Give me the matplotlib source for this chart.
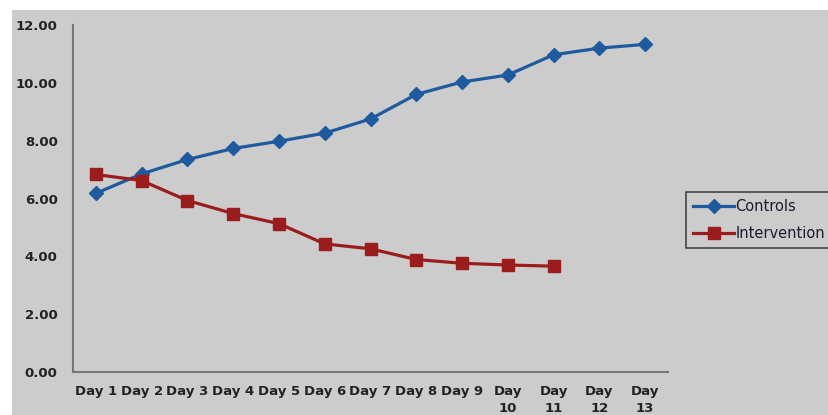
import matplotlib.pyplot as plt
from matplotlib.patches import Rectangle

days = ['Day 1', 'Day 2', 'Day 3', 'Day 4', 'Day 5', 'Day 6', 'Day 7',
        'Day 8', 'Day 9', 'Day\n10', 'Day\n11', 'Day\n12', 'Day\n13']
controls = [6.18, 6.85, 7.35, 7.73, 7.98, 8.26, 8.75, 9.6, 10.03, 10.27, 10.97, 11.2, 11.33]
intervention = [6.83, 6.62, 5.93, 5.48, 5.13, 4.43, 4.26, 3.89, 3.76, 3.7, 3.66]

bg = '#cccccc'

def main():
    fig = plt.figure(figsize=(8.29, 4.15), dpi=100, facecolor='white')
    # grey chart area (white margin on left and top)
    fig.add_artist(Rectangle((12/829, 0), 1, (415-10)/415, transform=fig.transFigure,
                             facecolor=bg, edgecolor='none', zorder=-10))
    ax = fig.add_axes([73/829, 43/415, 595/829, 347/415])
    ax.set_facecolor(bg)

    x = list(range(len(days)))
    ax.plot(x, controls, color='#1f5a9e', lw=2.3, marker='D', ms=7, label='Controls')
    ax.plot(x[:len(intervention)], intervention, color='#9b1c1c', lw=2.3, marker='s', ms=8,
            label='Intervention')

    ax.set_xlim(-0.5, len(days)-0.5)
    ax.set_ylim(0, 12)
    ax.set_yticks([0, 2, 4, 6, 8, 10, 12])
    ax.set_yticklabels([f'{v:.2f}' for v in [0, 2, 4, 6, 8, 10, 12]])
    ax.set_xticks(x)
    ax.set_xticklabels(days, va='top', linespacing=1.45)
    ax.tick_params(length=0, labelsize=9.5, colors='#222222', pad=9)
    ax.tick_params(axis='y', pad=11)
    for lab in ax.get_xticklabels() + ax.get_yticklabels():
        lab.set_fontweight('bold')

    for s in ['top', 'right']:
        ax.spines[s].set_visible(False)
    for s in ['left', 'bottom']:
        ax.spines[s].set_color('#777777')
        ax.spines[s].set_linewidth(1.5)

    leg = ax.legend(loc='center left', bbox_to_anchor=(686/829, (415-220)/415),
                    bbox_transform=fig.transFigure, borderaxespad=0, fancybox=False,
                    framealpha=1, facecolor=bg, edgecolor='#444444', fontsize=10.5,
                    handlelength=2.8, borderpad=0.5, labelspacing=0.85, handletextpad=0.1)
    leg.get_frame().set_linewidth(1.2)
    for t in leg.get_texts():
        t.set_color('#1a1a2e')

    plt.savefig('out.png', dpi=100, facecolor='white')
    return 0

if __name__ == '__main__':
    main()
